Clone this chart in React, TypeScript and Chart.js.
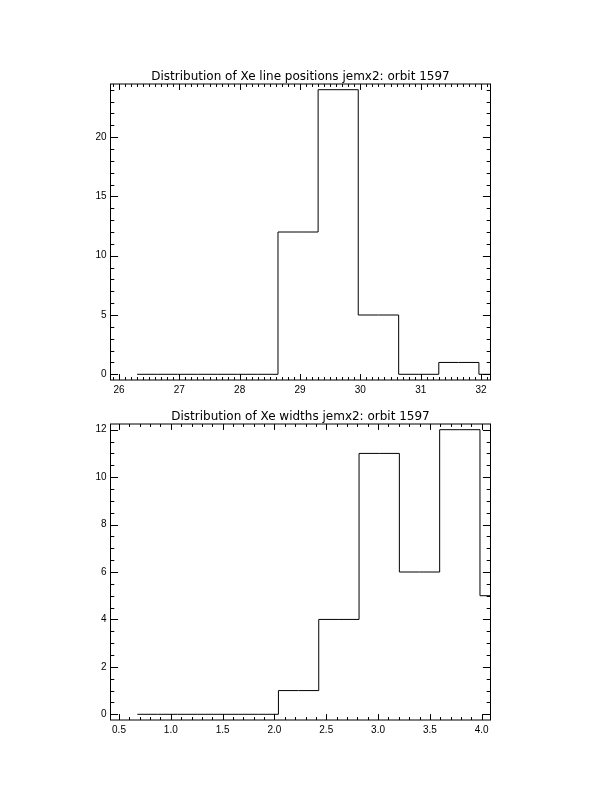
import React, { useEffect, useRef } from "react";
import { Chart, registerables } from "chart.js";

Chart.register(...registerables);

// ---- data ----
const topTitle = "Distribution of Xe line positions jemx2: orbit 1597";
const topCenters = [26.3, 26.97, 27.63, 28.3, 28.97, 29.63, 30.3, 30.97, 31.63, 32.3];
const topCounts = [0, 0, 0, 0, 12, 24, 5, 0, 1, 0];
const topXTicks = [26, 27, 28, 29, 30, 31, 32];
const topYTicks = [0, 5, 10, 15, 20];

const bottomTitle = "Distribution of Xe widths jemx2: orbit 1597";
const bottomCenters = [0.677, 1.066, 1.455, 1.844, 2.233, 2.622, 3.011, 3.4, 3.789, 4.178];
const bottomCounts = [0, 0, 0, 0, 1, 4, 11, 6, 12, 5];
const bottomXTicks = [0.5, 1.0, 1.5, 2.0, 2.5, 3.0, 3.5, 4.0];
const bottomYTicks = [0, 2, 4, 6, 8, 10, 12];

const FONT = "'Liberation Sans', Arial, sans-serif";
const TITLE_FONT = "'DejaVu Sans', sans-serif";

type PanelProps = {
  title: string;
  centers: number[];
  counts: number[];
  xTicks: number[];
  yTicks: number[];
  xMin: number;
  xMax: number;
  yMin: number;
  yMax: number;
  xMinor: number;
  yMinor: number;
  xDecimals: number;
  areaTop: number;
  areaBottom: number;
  canvasTop: number;
};

const W = 612;
const H = 396;
const AREA_LEFT = 110.5;
const AREA_RIGHT = 490.5;
const Y_AXIS_W = 40;
const X_AXIS_H = 16;

function Panel(p: PanelProps) {
  const ref = useRef<HTMLCanvasElement | null>(null);
  useEffect(() => {
    if (!ref.current) return;
    const idlBox = {
      id: "idlBox",
      afterDraw(chart: any) {
        const { ctx, chartArea } = chart;
        const { left, right, top, bottom } = chartArea;
        const xs = chart.scales.x;
        const ys = chart.scales.y;
        ctx.save();
        ctx.strokeStyle = "#000";
        ctx.lineWidth = 1;
        ctx.strokeRect(left, top, right - left, bottom - top);
        const xLen = 0.02 * (bottom - top);
        const yLen = 0.02 * (right - left);
        ctx.beginPath();
        const eps = 1e-9;
        for (let v = Math.ceil(p.xMin / p.xMinor - eps) * p.xMinor; v <= p.xMax + eps; v += p.xMinor) {
          const px = Math.round(xs.getPixelForValue(v)) + 0.5;
          if (px < left || px > right) continue;
          const isMajor = p.xTicks.some((t) => Math.abs(t - v) < p.xMinor / 10);
          const len = isMajor ? xLen : xLen / 2;
          ctx.moveTo(px, bottom);
          ctx.lineTo(px, bottom - len);
          ctx.moveTo(px, top);
          ctx.lineTo(px, top + len);
        }
        for (let v = Math.ceil(p.yMin / p.yMinor - eps) * p.yMinor; v <= p.yMax + eps; v += p.yMinor) {
          const py = Math.round(ys.getPixelForValue(v)) + 0.5;
          if (py < top || py > bottom) continue;
          const isMajor = p.yTicks.some((t) => Math.abs(t - v) < p.yMinor / 10);
          const len = isMajor ? yLen : yLen / 2;
          ctx.moveTo(left, py);
          ctx.lineTo(left + len, py);
          ctx.moveTo(right, py);
          ctx.lineTo(right - len, py);
        }
        ctx.stroke();
        ctx.fillStyle = "#000";
        ctx.font = `12px ${TITLE_FONT}`;
        ctx.textAlign = "center";
        ctx.textBaseline = "alphabetic";
        ctx.fillText(p.title, (left + right) / 2, top - 4);
        ctx.restore();
      },
    };

    const chart = new Chart(ref.current, {
      type: "line",
      data: {
        datasets: [
          {
            data: p.centers.map((c, i) => ({ x: c, y: p.counts[i] })),
            borderColor: "#000",
            borderWidth: 1,
            pointRadius: 0,
            fill: false,
            stepped: "middle",
          },
        ],
      },
      options: {
        animation: false,
        responsive: false,
        devicePixelRatio: 1,
        layout: {
          padding: {
            left: AREA_LEFT - Y_AXIS_W,
            right: W - AREA_RIGHT,
            top: p.areaTop,
            bottom: H - p.areaBottom - X_AXIS_H,
          },
        },
        plugins: {
          legend: { display: false },
          tooltip: { enabled: false },
          title: { display: false },
        },
        scales: {
          x: {
            type: "linear",
            position: "bottom",
            min: p.xMin,
            max: p.xMax,
            grid: { display: false, drawTicks: false },
            border: { display: false },
            ticks: {
              color: "#000",
              font: { family: FONT, size: 10 },
              padding: 4,
              maxRotation: 0,
              autoSkip: false,
              callback: (v: any) => Number(v).toFixed(p.xDecimals),
            },
            afterBuildTicks: (scale: any) => {
              scale.ticks = p.xTicks.map((v) => ({ value: v }));
            },
            afterFit: (scale: any) => {
              scale.height = X_AXIS_H;
            },
          },
          y: {
            type: "linear",
            min: p.yMin,
            max: p.yMax,
            grid: { display: false, drawTicks: false },
            border: { display: false },
            ticks: {
              color: "#000",
              font: { family: FONT, size: 10 },
              padding: 4,
              autoSkip: false,
              callback: (v: any) => String(v),
            },
            afterBuildTicks: (scale: any) => {
              scale.ticks = p.yTicks.map((v) => ({ value: v }));
            },
            afterFit: (scale: any) => {
              scale.width = Y_AXIS_W;
            },
          },
        },
      },
      plugins: [idlBox],
    } as any);
    return () => chart.destroy();
  }, []);
  return (
    <div style={{ position: "absolute", left: 0, top: p.canvasTop, width: W, height: H }}>
      <canvas ref={ref} width={W} height={H} style={{ width: W, height: H, display: "block" }} />
    </div>
  );
}

export default function App() {
  return (
    <div style={{ position: "absolute", left: 0, top: 0, width: 612, height: 792, background: "#fff" }}>
      <Panel
        title={topTitle}
        centers={topCenters}
        counts={topCounts}
        xTicks={topXTicks}
        yTicks={topYTicks}
        xMin={25.859}
        xMax={32.157}
        yMin={-0.48}
        yMax={24.48}
        xMinor={0.1}
        yMinor={1}
        xDecimals={0}
        areaTop={84}
        areaBottom={380}
        canvasTop={0}
      />
      <Panel
        title={bottomTitle}
        centers={bottomCenters}
        counts={bottomCounts}
        xTicks={bottomXTicks}
        yTicks={bottomYTicks}
        xMin={0.418}
        xMax={4.085}
        yMin={-0.24}
        yMax={12.24}
        xMinor={0.1}
        yMinor={0.5}
        xDecimals={1}
        areaTop={28}
        areaBottom={324}
        canvasTop={396}
      />
    </div>
  );
}
